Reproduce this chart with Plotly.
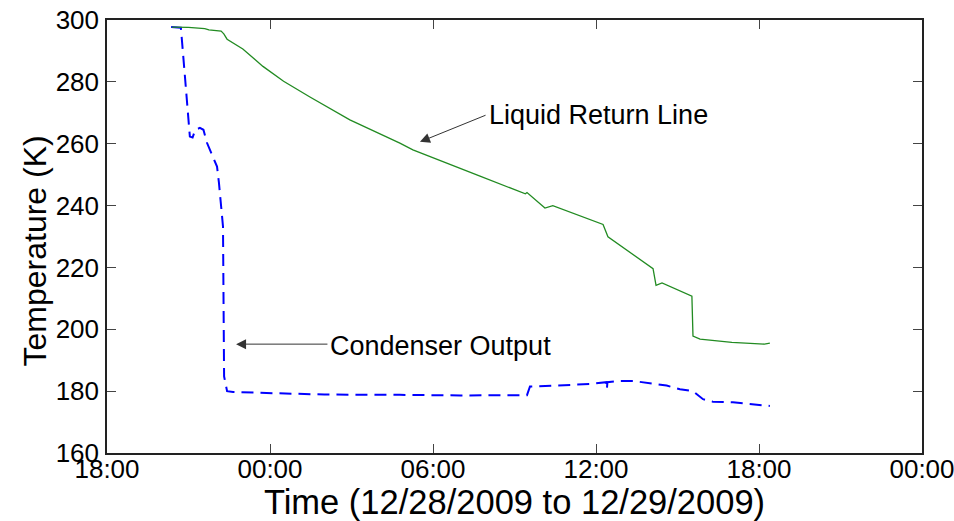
import pandas as pd
import plotly.graph_objects as go

# ---- data (hours after 2009-12-28 18:00, temperature in K) ----
liquid_hours = [2.39, 3.0, 3.6, 3.75, 4.2, 4.3, 4.42, 4.6, 5.0, 5.74, 6.5, 7.47, 8.94, 10.78, 11.26,
                13.73, 15.40, 15.46, 16.12, 16.41, 18.26, 18.44, 20.10, 20.21, 20.43,
                21.53, 21.57, 21.83, 23.0, 24.2, 24.40]
liquid_temp = [297.7, 297.6, 297.2, 296.8, 296.4, 295.5, 293.8, 292.8, 290.6, 285.0, 280.2, 275.1, 267.7,
               260.2, 258.0, 249.5, 243.8, 244.2, 239.2, 240.0, 233.9, 229.9, 219.6, 214.2,
               215.0, 210.7, 197.8, 196.8, 195.8, 195.2, 195.5]

cond_hours = [2.36, 2.72, 2.87, 2.98, 3.05, 3.15, 3.25, 3.42, 3.55, 3.68, 4.05, 4.12, 4.18,
              4.27, 4.31, 4.42, 4.64, 6.0, 8.0, 10.78, 13.0, 15.46, 15.57, 16.5, 17.8,
              18.38, 18.40, 18.42, 18.8, 19.36, 20.10, 20.6, 21.09, 21.57, 21.94, 22.3,
              23.04, 23.7, 24.40]
cond_temp = [297.7, 297.5, 281.6, 268.7, 262.3, 262.0, 264.5, 265.1, 264.5, 260.3, 252.6,
             247.4, 241.5, 233.2, 184.8, 180.0, 179.7, 179.3, 178.9, 178.8, 178.6, 178.7,
             181.5, 181.8, 182.3, 182.9, 180.6, 182.9, 183.3, 183.3, 182.3, 181.8, 180.6,
             180.0, 177.4, 176.6, 176.4, 175.7, 175.2]

start = pd.Timestamp("2009-12-28 18:00")
end = pd.Timestamp("2009-12-30 00:00")
tick_hours = [0, 6, 12, 18, 24, 30]
y_ticks = [160, 180, 200, 220, 240, 260, 280, 300]
x_title = "Time (12/28/2009 to 12/29/2009)"
y_title = "Temperature (K)"


def to_time(h):
    return start + pd.to_timedelta(h, unit="h")


FONT = "Liberation Sans, Arial, Helvetica, sans-serif"

fig = go.Figure()
fig.add_trace(go.Scatter(
    x=[to_time(h) for h in cond_hours], y=cond_temp, mode="lines",
    line=dict(color="#0000FF", width=2, dash="12px,7px"), name="Condenser Output"))
fig.add_trace(go.Scatter(
    x=[to_time(h) for h in liquid_hours], y=liquid_temp, mode="lines",
    line=dict(color="#228B22", width=1.3), name="Liquid Return Line"))

# annotations: arrows (empty text) + labels
arrow_style = dict(showarrow=True, arrowhead=2, arrowsize=2, arrowwidth=1,
                   arrowcolor="#333333", axref="x", ayref="y", xref="x", yref="y", text="")
fig.add_annotation(x=to_time(11.52), y=260.6, ax=to_time(13.99), ay=269.4, **arrow_style)
fig.add_annotation(x=to_time(4.75), y=195.2, ax=to_time(8.17), ay=195.2, **arrow_style)
fig.add_annotation(x=to_time(14.0), y=269.4, text="Liquid Return Line", showarrow=False,
                   xanchor="left", yanchor="middle", font=dict(family=FONT, size=27, color="black"))
fig.add_annotation(x=to_time(8.15), y=194.6, text="Condenser Output", showarrow=False,
                   xanchor="left", yanchor="middle", font=dict(family=FONT, size=27, color="black"))
# y-axis title (placed slightly below the axis centre, as in the reference)
fig.add_annotation(xref="paper", yref="paper", x=-0.088, y=0.466, text=y_title,
                   textangle=-90, showarrow=False, xanchor="center", yanchor="middle",
                   font=dict(family=FONT, size=32, color="black"))

axis_common = dict(showgrid=False, zeroline=False, showline=True, linecolor="#222222",
                   linewidth=1.5, mirror="ticks", ticks="inside", ticklen=9, tickwidth=1,
                   tickcolor="#444444", automargin=False, ticklabeloverflow="allow",
                   tickfont=dict(family=FONT, size=26, color="black"))

fig.update_layout(
    width=954, height=521,
    margin=dict(l=107, r=32, t=20, b=68),
    paper_bgcolor="white", plot_bgcolor="white",
    showlegend=False,
    xaxis=dict(type="date", range=[start, end],
               tickvals=[to_time(h) for h in tick_hours], tickformat="%H:%M",
               ticklabelstandoff=-8,
               title=dict(text=x_title, standoff=0,
                          font=dict(family=FONT, size=34.5, color="black")),
               **axis_common),
    yaxis=dict(range=[160, 300], tickvals=y_ticks,
               ticklabelstandoff=1,
               **axis_common),
)

fig.write_html("out.html", config={"displayModeBar": False},
               post_script="document.body.style.margin='0';document.body.style.overflow='hidden';")
